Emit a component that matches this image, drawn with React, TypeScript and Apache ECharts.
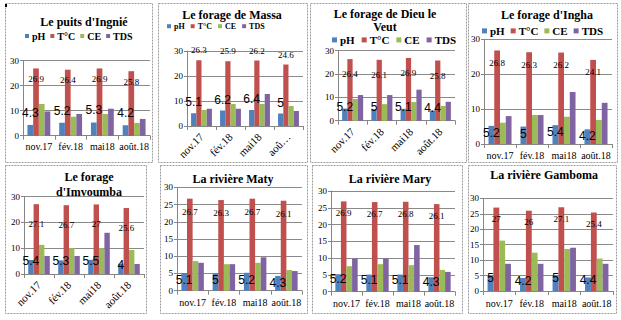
import React, { useEffect, useRef } from 'react';
import * as echarts from 'echarts';

const categories = ['nov.17', 'fév.18', 'mai18', 'août.18'];
const stations = [
  "Le puits d'Ingnié",
  'Le forage de Massa',
  'Le forage de Dieu le Veut',
  "Le forage d'Ingha",
  "Le forage d'Imvoumba",
  'La rivière Maty',
  'La rivière Mary',
  'La rivière Gamboma',
];
const seriesNames = ['pH', 'T°C', 'CE', 'TDS'];
const phValues = [
  [4.3, 5.2, 5.3, 4.2],
  [5.1, 6.2, 6.4, 5],
  [5.2, 5, 5.1, 4.4],
  [5.2, 5, 5.4, 4.2],
  [5.4, 5.3, 5.5, 4],
  [5.1, 5, 5.2, 4.3],
  [5.2, 5.1, 5.1, 4.3],
  [5, 4.2, 5, 4.4],
];
const tempValues = [
  [26.9, 26.4, 26.9, 25.8],
  [26.3, 25.9, 26.2, 24.6],
  [26.4, 26.1, 26.9, 25.8],
  [26.8, 26.3, 26.2, 24.1],
  [27.1, 26.7, 27, 25.6],
  [26.7, 26.3, 26.7, 26.1],
  [26.9, 26.7, 26.8, 26.1],
  [27, 26, 27.1, 25.4],
];
const ceValues = [
  [12.7, 7.6, 8.7, 5.1],
  [6.4, 8.8, 8.8, 8.0],
  [9.3, 7.1, 8.0, 6.3],
  [6.1, 8.3, 7.8, 6.9],
  [11.3, 10, 10, 9.3],
  [8.6, 7.7, 8.1, 6.0],
  [7.6, 8.2, 7.9, 6.5],
  [16.3, 12.4, 13.6, 10.5],
];
const tdsValues = [
  [9.7, 8.7, 10.8, 6.7],
  [6.9, 6.9, 12.8, 6.0],
  [11, 11, 13.3, 8.1],
  [8.0, 8.3, 14.9, 11.8],
  [7, 7, 16, 3.9],
  [8.1, 7.7, 9.7, 5.7],
  [9.9, 9.9, 13.9, 5.9],
  [8.8, 8.8, 14, 8.8],
];
const yMax = 30;
const yIntervals = [10, 10, 10, 10, 10, 5, 5, 5];

const colors = ['#4F81BD', '#C0504D', '#9BBB59', '#8064A2'];
const SERIF = '"Liberation Serif", "DejaVu Serif", serif';
const SANS = '"Liberation Sans", Arial, sans-serif';

type Leg = { x: number; y: number; size: number; icon: number; gap: number } | null;
type Lay = {
  box: number[];
  title: number[];
  wrap: number;
  lineGap: number;
  legend: Leg;
  grid: number[];
  rotate: number;
  margin: number;
  phDy: number;
  tDy: number;
  truncLast: boolean;
};

const layouts: Lay[] = [
  { box: [5, 3, 152, 162], title: [84, 22], wrap: 0, lineGap: 0, legend: { x: 25, y: 37, size: 10, icon: 4, gap: 5 }, grid: [23, 60.7, 127, 75], rotate: 0, margin: 6, phDy: -12, tDy: 10.5, truncLast: false },
  { box: [158, 3, 307, 162], title: [232, 15], wrap: 0, lineGap: 0, legend: { x: 167, y: 27, size: 8, icon: 4, gap: 6 }, grid: [187, 51, 116, 75], rotate: 45, margin: 9, phDy: -11, tDy: -10, truncLast: true },
  { box: [310, 3, 466, 162], title: [385, 14], wrap: 5, lineGap: 13, legend: { x: 332, y: 41, size: 11, icon: 5, gap: 7 }, grid: [338, 50.7, 117, 70], rotate: 45, margin: 9, phDy: -2, tDy: 15, truncLast: false },
  { box: [468, 3, 617, 162], title: [547, 15], wrap: 0, lineGap: 0, legend: { x: 482, y: 32, size: 11, icon: 5, gap: 6 }, grid: [484, 39.3, 128, 104.7], rotate: 0, margin: 6, phDy: 7, tDy: 12.5, truncLast: false },
  { box: [5, 165, 146, 313], title: [89, 177.3], wrap: 2, lineGap: 14.5, legend: null, grid: [24, 196.7, 120, 77.3], rotate: 45, margin: 9, phDy: 1, tDy: 20, truncLast: false },
  { box: [160, 165, 307, 313], title: [233, 179], wrap: 0, lineGap: 0, legend: null, grid: [177, 187.3, 125, 103.4], rotate: 0, margin: 7, phDy: 7, tDy: 13, truncLast: false },
  { box: [312, 165, 462, 313], title: [390, 179], wrap: 0, lineGap: 0, legend: null, grid: [331, 191, 124, 100.7], rotate: 0, margin: 7, phDy: 5, tDy: 12, truncLast: false },
  { box: [468, 165, 616, 313], title: [544, 175], wrap: 0, lineGap: 0, legend: null, grid: [483, 198.3, 130, 92.7], rotate: 0, margin: 7, phDy: 2.5, tDy: 11.5, truncLast: false },
];

function buildOption() {
  const grid: any[] = [];
  const xAxis: any[] = [];
  const yAxis: any[] = [];
  const series: any[] = [];
  const legend: any[] = [];
  const graphic: any[] = [];
  const values = [phValues, tempValues, ceValues, tdsValues];

  layouts.forEach((l, i) => {
    grid.push({ left: l.grid[0], top: l.grid[1], width: l.grid[2], height: l.grid[3], containLabel: false });
    xAxis.push({
      type: 'category',
      gridIndex: i,
      data: categories,
      axisLine: { lineStyle: { color: '#868686' } },
      axisTick: { show: true, length: 4, lineStyle: { color: '#868686' } },
      axisLabel: {
        interval: 0,
        rotate: l.rotate,
        margin: l.margin,
        fontFamily: SERIF,
        fontSize: l.rotate ? 11 : 10,
        color: '#000',
        hideOverlap: false,
        formatter: (v: string) => (l.truncLast && v === categories[3] ? 'aoû…' : v),
      },
    });
    yAxis.push({
      type: 'value',
      gridIndex: i,
      min: 0,
      max: yMax,
      interval: yIntervals[i],
      axisLine: { show: true, lineStyle: { color: '#868686' } },
      axisTick: { show: true, length: 3, lineStyle: { color: '#868686' } },
      splitLine: { lineStyle: { color: '#8a8a8a', width: 1 } },
      axisLabel: { fontFamily: SERIF, fontSize: 9, color: '#000', margin: 4 },
    });
    seriesNames.forEach((name, j) => {
      let label: any = { show: false };
      if (j === 0) {
        label = {
          show: true,
          position: 'insideTop',
          distance: 0,
          offset: [0, l.phDy - 7],
          fontFamily: SANS,
          fontSize: 12,
          lineHeight: 14,
          color: '#000',
        };
      } else if (j === 1) {
        label = {
          show: true,
          position: 'insideTop',
          distance: 0,
          offset: [0, l.tDy - 5.5],
          fontFamily: SERIF,
          fontSize: 9,
          lineHeight: 11,
          color: '#000',
        };
      }
      series.push({
        type: 'bar',
        name,
        xAxisIndex: i,
        yAxisIndex: i,
        data: values[j][i],
        itemStyle: { color: colors[j] },
        barGap: '0%',
        barCategoryGap: '28%',
        label,
        z: j === 0 ? 3 : 2,
      });
    });
    if (l.legend) {
      const lg = l.legend;
      legend.push({
        left: lg.x,
        top: lg.y - lg.size * 0.6,
        padding: 0,
        icon: 'rect',
        itemWidth: lg.icon,
        itemHeight: lg.icon,
        itemGap: lg.gap,
        selectedMode: false,
        data: seriesNames,
        textStyle: { fontFamily: SERIF, fontWeight: 'bold', fontSize: lg.size, color: '#000', padding: [0, 0, 0, -2] },
      });
    }
    const b = l.box;
    graphic.push({
      type: 'rect',
      silent: true,
      shape: { x: b[0] + 0.5, y: b[1] + 0.5, width: b[2] - b[0], height: b[3] - b[1] },
      style: { fill: 'transparent', stroke: '#9c9c9c', lineWidth: 1, lineDash: [2, 1] },
      z: 0,
    });
    const words = stations[i].split(' ');
    const lines = l.wrap > 0 ? [words.slice(0, l.wrap).join(' '), words.slice(l.wrap).join(' ')] : [stations[i]];
    lines.forEach((t, k) => {
      graphic.push({
        type: 'text',
        silent: true,
        x: l.title[0],
        y: l.title[1] + k * l.lineGap,
        style: {
          text: t,
          textAlign: 'center',
          textVerticalAlign: 'middle',
          font: `bold 12px ${SERIF}`,
          fill: '#000',
        },
        z: 10,
      });
    });
  });

  graphic.push({ type: 'rect', silent: true, shape: { x: 5, y: 4, width: 2, height: 3 }, style: { fill: '#000' } });

  return {
    animation: false,
    backgroundColor: '#fff',
    grid,
    xAxis,
    yAxis,
    series,
    legend,
    graphic,
  };
}

export default function App() {
  const ref = useRef<HTMLDivElement>(null);
  useEffect(() => {
    if (!ref.current) return;
    const chart = echarts.init(ref.current, undefined, { renderer: 'svg' });
    chart.setOption(buildOption() as any);
    return () => chart.dispose();
  }, []);
  return (
    <div
      ref={ref}
      style={{ position: 'absolute', left: 0, top: 0, width: 621, height: 320, background: '#fff' }}
    />
  );
}
